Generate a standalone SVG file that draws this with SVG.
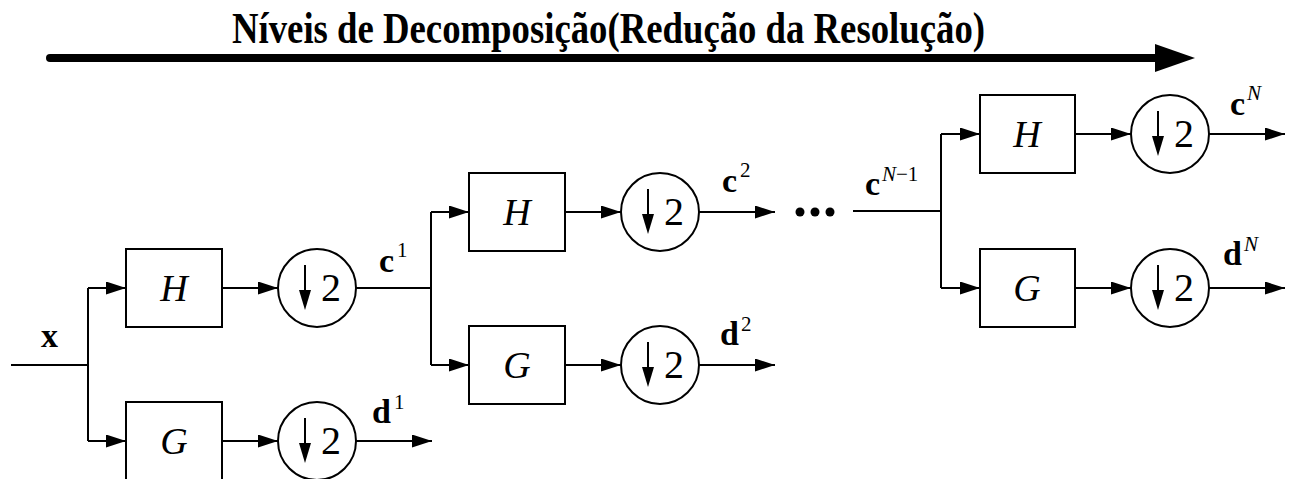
<svg xmlns="http://www.w3.org/2000/svg" width="1289" height="479" viewBox="0 0 1289 479">
<style>
.ln{fill:none;stroke:#000;stroke-width:2}
.ar{fill:none;stroke:#000;stroke-width:2;marker-end:url(#ah)}
.box{fill:#fff;stroke:#000;stroke-width:2}
.ds{fill:#fff;stroke:#000;stroke-width:2}
.dsl{stroke:#000;stroke-width:2}
text{font-family:'Liberation Serif','Times New Roman',Times,serif}
.blab{font-style:italic;font-size:38px;text-anchor:middle}
.two{font-size:40px}
.lab{font-weight:bold;font-size:34px}
.sup{font-weight:normal;font-size:21px}
.it{font-style:italic}
.title{font-weight:bold;font-size:45px}
</style>
<defs>
<marker id="ah" markerUnits="userSpaceOnUse" markerWidth="20" markerHeight="13" refX="20" refY="6.5" orient="auto">
<path d="M0,0 L20,6.5 L0,13 z" fill="#000"/>
</marker>
<path id="dnarrow" d="M-6,2 L6,2 L0,22 z"/>
</defs>
<rect width="1289" height="479" fill="#fff"/>

<g id="title">
<text class="title" x="232" y="43" textLength="753" lengthAdjust="spacingAndGlyphs">Níveis de Decomposição(Redução da Resolução)</text>
<line x1="50" y1="58" x2="1158" y2="58" stroke="#000" stroke-width="8" stroke-linecap="round"/>
<polygon points="1155,44 1195,58 1155,72" fill="#000"/>
</g>

<g id="connectors">
<path class="ln" d="M11,365 H88 M88,288 V441"/>
<path class="ar" d="M88,288 H126"/>
<path class="ar" d="M88,441 H126"/>
<path class="ar" d="M222,288 H278"/>
<path class="ar" d="M222,441 H278"/>
<path class="ln" d="M356,288 H431 M431,212 V365"/>
<path class="ar" d="M356,441 H432"/>
<path class="ar" d="M431,212 H469"/>
<path class="ar" d="M431,365 H469"/>
<path class="ar" d="M565,212 H621"/>
<path class="ar" d="M565,365 H621"/>
<path class="ar" d="M699,212 H775"/>
<path class="ar" d="M699,365 H775"/>
<path class="ln" d="M853,211 H941 M941,134 V288"/>
<path class="ar" d="M941,134 H980"/>
<path class="ar" d="M941,288 H980"/>
<path class="ar" d="M1075,134 H1131"/>
<path class="ar" d="M1075,288 H1131"/>
<path class="ar" d="M1209,134 H1285"/>
<path class="ar" d="M1209,288 H1285"/>
<circle cx="800" cy="212" r="4.5"/>
<circle cx="815" cy="212" r="4.5"/>
<circle cx="830" cy="212" r="4.5"/>
</g>

<g id="H1"><rect class="box" x="126" y="249" width="96" height="78"/><text class="blab" x="174" y="301">H</text></g>
<g id="G1"><rect class="box" x="126" y="402" width="96" height="78"/><text class="blab" x="174" y="454">G</text></g>
<g id="H2"><rect class="box" x="469" y="173" width="96" height="78"/><text class="blab" x="517" y="225">H</text></g>
<g id="G2"><rect class="box" x="469" y="326" width="96" height="78"/><text class="blab" x="517" y="378">G</text></g>
<g id="H3"><rect class="box" x="980" y="95" width="95" height="78"/><text class="blab" x="1027" y="147">H</text></g>
<g id="G3"><rect class="box" x="980" y="249" width="95" height="78"/><text class="blab" x="1027" y="301">G</text></g>

<g id="D1H" transform="translate(317,288)"><circle class="ds" r="39"/><line class="dsl" x1="-12" y1="-23" x2="-12" y2="4"/><use href="#dnarrow" x="-12"/><text class="two" x="4" y="13">2</text></g>
<g id="D1G" transform="translate(317,441)"><circle class="ds" r="39"/><line class="dsl" x1="-12" y1="-23" x2="-12" y2="4"/><use href="#dnarrow" x="-12"/><text class="two" x="4" y="13">2</text></g>
<g id="D2H" transform="translate(660,212)"><circle class="ds" r="39"/><line class="dsl" x1="-12" y1="-23" x2="-12" y2="4"/><use href="#dnarrow" x="-12"/><text class="two" x="4" y="13">2</text></g>
<g id="D2G" transform="translate(660,365)"><circle class="ds" r="39"/><line class="dsl" x1="-12" y1="-23" x2="-12" y2="4"/><use href="#dnarrow" x="-12"/><text class="two" x="4" y="13">2</text></g>
<g id="D3H" transform="translate(1170,134)"><circle class="ds" r="39"/><line class="dsl" x1="-12" y1="-23" x2="-12" y2="4"/><use href="#dnarrow" x="-12"/><text class="two" x="4" y="13">2</text></g>
<g id="D3G" transform="translate(1170,288)"><circle class="ds" r="39"/><line class="dsl" x1="-12" y1="-23" x2="-12" y2="4"/><use href="#dnarrow" x="-12"/><text class="two" x="4" y="13">2</text></g>

<g id="labels">
<text class="lab" x="41" y="347">x</text>
<text class="lab" x="379" y="272">c<tspan class="sup" x="397" y="257">1</tspan></text>
<text class="lab" x="372" y="423">d<tspan class="sup" x="394" y="409">1</tspan></text>
<text class="lab" x="722" y="192">c<tspan class="sup" x="740" y="177">2</tspan></text>
<text class="lab" x="720" y="345">d<tspan class="sup" x="741" y="331">2</tspan></text>
<text class="lab" x="865" y="195">c<tspan class="sup" x="882" y="181"><tspan class="it">N</tspan>−1</tspan></text>
<text class="lab" x="1230" y="115">c<tspan class="sup it" x="1247" y="100">N</tspan></text>
<text class="lab" x="1223" y="265">d<tspan class="sup it" x="1244" y="251">N</tspan></text>
</g>
</svg>
